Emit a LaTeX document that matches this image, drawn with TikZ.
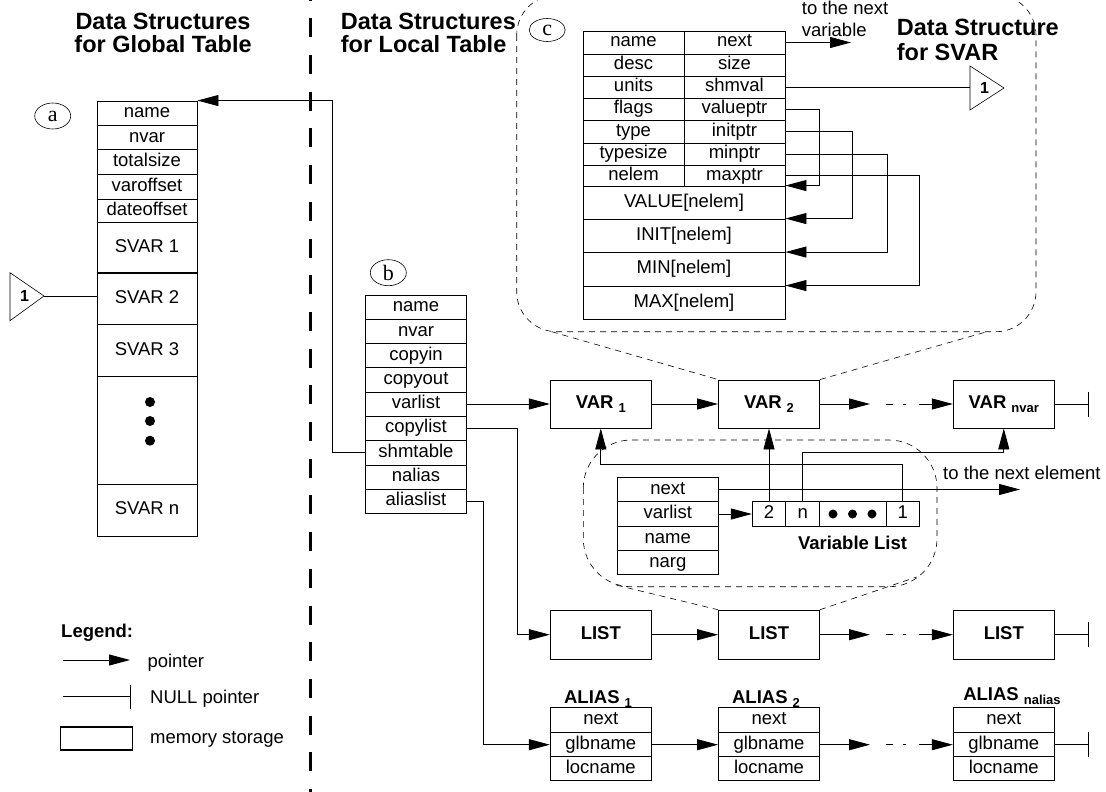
\documentclass[tikz,border=0pt]{standalone}
\usepackage{fontspec}
\setmainfont{Liberation Sans}
\newfontfamily\letterfont{Liberation Serif}
\usetikzlibrary{arrows.meta,shapes.geometric}
\newcommand\tf{\fontsize{18.5}{20}\selectfont}
\newcommand\hf{\fontsize{23.5}{24}\selectfont\bfseries}
\newcommand\sbs[1]{\hspace{5pt}\raisebox{-4pt}{\fontsize{13}{13}\selectfont\bfseries #1}}
\newcommand\mk[6]{\node[cell,minimum width=#4pt,minimum height=#5pt] (#1) at (#2,#3) {#6};}
\begin{document}
\begin{tikzpicture}[x=1pt,y=-1pt,
 cell/.style={draw,line width=0.9pt,inner sep=0pt,font=\tf,text height=13pt,text depth=4pt},
 bcell/.style={cell,font=\tf\bfseries,minimum width=101pt},
 ptr/.style={line width=0.9pt,-{Triangle[length=21pt,width=11pt]}},
 wire/.style={line width=0.9pt},
 dashcloud/.style={line width=0.6pt,dash pattern=on 6pt off 5pt},
 txt/.style={font=\tf,inner sep=0pt},
 btxt/.style={font=\tf\bfseries,inner sep=0pt},
 hdr/.style={font=\hf,inner sep=0pt},
 lettertag/.style={ellipse,draw,line width=0.6pt,inner sep=0pt,minimum width=36pt,minimum height=26pt,font=\letterfont\fontsize{22}{22}\selectfont},
]
\useasboundingbox (0,0) rectangle (1106,792);

% separator
\draw[line width=3pt,dash pattern=on 19pt off 17.7pt,dash phase=18.4pt] (310.3,0) -- (310.3,792);

% headers
\node[hdr,anchor=base] (h1a) at (163,29.3) {Data Structures};
\node[hdr,anchor=base] (h1b) at (163,52.3) {for Global Table};
\node[hdr,anchor=base west] (h2a) at (340.7,29.3) {Data Structures};
\node[hdr,anchor=base west] (h2b) at (340.7,52.3) {for Local Table};
\node[hdr,anchor=base west] (h3a) at (896.7,36) {Data Structure};
\node[hdr,anchor=base west] (h3b) at (896.7,60) {for SVAR};
\node[txt,anchor=base west] (tnv1) at (801.7,15) {to the next};
\node[txt,anchor=base west] (tnv2) at (801.7,36.5) {variable};

% letter tags
\node[lettertag] (ta) at (52.7,116) {a};
\node[lettertag] (tb) at (388.3,272.7) {b};
\node[lettertag,minimum height=23pt] (tc) at (547.2,30) {c};

% dashed clouds
\draw[dashcloud,rounded corners=40pt] (516.7,-5) rectangle (1036,331.7);
\draw[dashcloud,rounded corners=48pt] (583.3,440) rectangle (937,586.7);

% global table
\mk{g1}{147}{113.25}{100}{24.5}{name}
\mk{g2}{147}{137.5}{100}{24}{nvar}
\mk{g3}{147}{162}{100}{25}{totalsize}
\mk{g4}{147}{186.75}{100}{24.5}{varoffset}
\mk{g5}{147}{210.75}{100}{23.5}{dateoffset}
\mk{g6}{147}{247.5}{100}{50}{SVAR 1}
\mk{g7}{147}{298.5}{100}{52}{SVAR 2}
\mk{g8}{147}{350.5}{100}{52}{SVAR 3}
\mk{g9}{147}{430.4}{100}{107.8}{}
\mk{g10}{147}{510.3}{100}{52}{SVAR n}
\draw[line width=1.7pt] (g6.south west) -- (g6.south east);
\fill (150,402) circle (5pt);
\fill (150,421) circle (5pt);
\fill (150,440.7) circle (5pt);

% triangle 1 (left)
\coordinate (t1) at (44,296);
\draw[line width=0.6pt] (10,272.7) -- (t1) -- (10,320.7) -- cycle;
\node[font=\fontsize{16}{16}\selectfont\bfseries,inner sep=0pt] (t1n) at (24.5,296) {1};
\draw[wire] (t1) -- (t1 -| g7.west);

% local table
\mk{l1}{416}{307.25}{100.6}{24.5}{name}
\mk{l2}{416}{331.5}{100.6}{24}{nvar}
\mk{l3}{416}{355.5}{100.6}{24}{copyin}
\mk{l4}{416}{379.75}{100.6}{24.5}{copyout}
\mk{l5}{416}{404}{100.6}{24}{varlist}
\mk{l6}{416}{428}{100.6}{24}{copylist}
\mk{l7}{416}{452.5}{100.6}{25}{shmtable}
\mk{l8}{416}{477.15}{100.6}{24.3}{nalias}
\mk{l9}{416}{501.15}{100.6}{23.7}{aliaslist}

% SVAR table
\mk{s1l}{633.5}{42.5}{101}{23}{name}
\mk{s1r}{734.5}{42.5}{101}{23}{next}
\mk{s2l}{633.5}{65.25}{101}{22.5}{desc}
\mk{s2r}{734.5}{65.25}{101}{22.5}{size}
\mk{s3l}{633.5}{87.25}{101}{21.5}{units}
\mk{s3r}{734.5}{87.25}{101}{21.5}{shmval}
\mk{s4l}{633.5}{109.25}{101}{22.5}{flags}
\mk{s4r}{734.5}{109.25}{101}{22.5}{valueptr}
\mk{s5l}{633.5}{131.75}{101}{22.5}{type}
\mk{s5r}{734.5}{131.75}{101}{22.5}{initptr}
\mk{s6l}{633.5}{154.25}{101}{22.5}{typesize}
\mk{s6r}{734.5}{154.25}{101}{22.5}{minptr}
\mk{s7l}{633.5}{175.75}{101}{20.5}{nelem}
\mk{s7r}{734.5}{175.75}{101}{20.5}{maxptr}
\mk{aval}{684}{202.5}{202}{33}{VALUE[nelem]}
\mk{ainit}{684}{235.75}{202}{33.5}{INIT[nelem]}
\mk{amin}{684}{269.25}{202}{33.5}{MIN[nelem]}
\mk{amax}{684}{302.5}{202}{33}{MAX[nelem]}

\coordinate (nextvar) at (851,42.5);
\draw[ptr] (s1r.east) -- (nextvar);
\coordinate (t2) at (970,87.25);
\draw[line width=0.6pt] (970,66) -- (1004,88) -- (970,110) -- cycle;
\node[font=\fontsize{16}{16}\selectfont\bfseries,inner sep=0pt] (t2n) at (984.5,88) {1};
\draw[wire] (s3r.east) -- (t2);
\draw[ptr] (s4r.east) -- ++(34.3,0) |- (aval.north east);
\draw[ptr] (s5r.east) -- ++(67.3,0) |- (ainit.north east);
\draw[ptr] (s6r.east) -- ++(101.7,0) |- (amin.north east);
\draw[ptr] (s7r.east) -- ++(134.3,0) |- (amax.north east);

% VAR row
\node[bcell,minimum height=48pt] (var1) at (600.8,404) {VAR\sbs{1}};
\node[bcell,minimum height=48pt] (var2) at (769,404) {VAR\sbs{2}};
\node[bcell,minimum height=48pt] (varn) at (1003.8,404) {VAR\sbs{nvar}};
\draw[dashcloud] (551.7,331.7) -- (var2.north west);
\draw[dashcloud] (var2.north east) -- (987,331.7);
\draw[ptr] (l5.east) -- (var1.west);
\draw[ptr] (var1.east) -- (var2.west);
\coordinate (d1) at (870,404);
\coordinate (d2) at (919,404);
\draw[ptr] (var2.east) -- (d1);
\draw[wire] (d1) ++(16,0) -- ++(7,0);
\draw[wire] (d1) ++(33,0) -- ++(2.5,0);
\draw[ptr] (d2) -- (varn.west);
\coordinate (nv1) at (1088.3,404);
\draw[wire] (varn.east) -- (nv1);
\draw[wire] (nv1) ++(0,-12.5) -- ++(0,25);

% inner element (cloud b)
\mk{bn}{667.8}{489.5}{101}{24.4}{next}
\mk{bv}{667.8}{514}{101}{24.6}{varlist}
\mk{bnm}{667.8}{538.5}{101}{24.4}{name}
\mk{bg}{667.8}{562.5}{101}{23.6}{narg}
\mk{v2}{769}{514}{33.4}{24.6}{2}
\mk{vn}{802.7}{514}{34}{24.6}{n}
\mk{vd}{852.85}{514}{66.3}{24.6}{}
\mk{v1}{902.65}{514}{33.3}{24.6}{1}
\fill (833,514) circle (4.5pt);
\fill (852.5,514) circle (4.5pt);
\fill (872,514) circle (4.5pt);
\node[btxt,anchor=base] (vlist) at (852.5,549) {Variable List};
\coordinate (nextel) at (1020,489.5);
\draw[ptr] (bn.east) -- (nextel);
\node[txt,anchor=base west] (tne) at (943,479) {to the next element};
\draw[ptr] (bv.east) -- (v2.west);
\draw[ptr] (v2.north) -- (var2.south);
\draw[ptr] (vn.north) -- ++(0,-48.4) -| (varn.south);
\draw[ptr] (v1.north) -- ++(0,-36.7) -| (var1.south);

% LIST row
\node[bcell,minimum height=49pt] (list1) at (600.8,634.7) {LIST};
\node[bcell,minimum height=49pt] (list2) at (769,634.7) {LIST};
\node[bcell,minimum height=49pt] (list3) at (1003.8,634.7) {LIST};
\draw[dashcloud] (616.7,585.2) -- (list2.north west);
\draw[dashcloud] (list2.north east) -- (916.7,577);
\draw[ptr] (l6.east) -- ++(50.4,0) |- (list1.west);
\draw[ptr] (list1.east) -- (list2.west);
\coordinate (e1) at (870,634.7);
\coordinate (e2) at (919,634.7);
\draw[ptr] (list2.east) -- (e1);
\draw[wire] (e1) ++(16,0) -- ++(7,0);
\draw[wire] (e1) ++(33,0) -- ++(2.5,0);
\draw[ptr] (e2) -- (list3.west);
\coordinate (nv2) at (1088.3,634.7);
\draw[wire] (list3.east) -- (nv2);
\draw[wire] (nv2) ++(0,-12.5) -- ++(0,25);

% ALIAS row
\mk{a1n}{600.8}{720}{101}{25.4}{next}
\mk{a1g}{600.8}{744.7}{101}{24}{glbname}
\mk{a1l}{600.8}{768.5}{101}{23.6}{locname}
\mk{a2n}{769}{720}{101}{25.4}{next}
\mk{a2g}{769}{744.7}{101}{24}{glbname}
\mk{a2l}{769}{768.5}{101}{23.6}{locname}
\mk{a3n}{1003.8}{720}{101}{25.4}{next}
\mk{a3g}{1003.8}{744.7}{101}{24}{glbname}
\mk{a3l}{1003.8}{768.5}{101}{23.6}{locname}
\node[btxt,anchor=base] (al1) at (598,703.5) {ALIAS\sbs{1}};
\node[btxt,anchor=base] (al2) at (766,703.5) {ALIAS\sbs{2}};
\node[btxt,anchor=base] (al3) at (1012,700.5) {ALIAS\sbs{nalias}};
\draw[ptr] (l9.east) -- ++(17,0) |- (a1g.west);
\draw[ptr] (a1g.east) -- (a2g.west);
\coordinate (f1) at (870,744.7);
\coordinate (f2) at (919,744.7);
\draw[ptr] (a2g.east) -- (f1);
\draw[wire] (f1) ++(16,0) -- ++(7,0);
\draw[wire] (f1) ++(33,0) -- ++(2.5,0);
\draw[ptr] (f2) -- (a3g.west);
\coordinate (nv3) at (1088.3,744.7);
\draw[wire] (a3g.east) -- (nv3);
\draw[wire] (nv3) ++(0,-12.5) -- ++(0,25);

% shmtable -> global table
\draw[ptr] (l7.west) -- ++(-33,0) |- (g1.north east);

% legend
\node[btxt,anchor=base west] (lg) at (61,637.3) {Legend:};
\coordinate (lp1) at (63,660);
\coordinate (lp2) at (130,660);
\draw[ptr] (lp1) -- (lp2);
\node[txt,anchor=base west] (lgp) at (147.3,667.5) {pointer};
\coordinate (ln1) at (63,696.7);
\coordinate (ln2) at (130,696.7);
\draw[wire] (ln1) -- (ln2);
\draw[wire] (ln2) ++(0,-12) -- ++(0,24);
\node[txt,anchor=base west] (lgn) at (150,703.3) {NULL pointer};
\node[draw,line width=1.8pt,minimum width=72pt,minimum height=23pt,inner sep=0pt] (lgbox) at (96.5,738.4) {};
\node[txt,anchor=base west] (lgm) at (150,743.5) {memory storage};
\end{tikzpicture}
\end{document}
